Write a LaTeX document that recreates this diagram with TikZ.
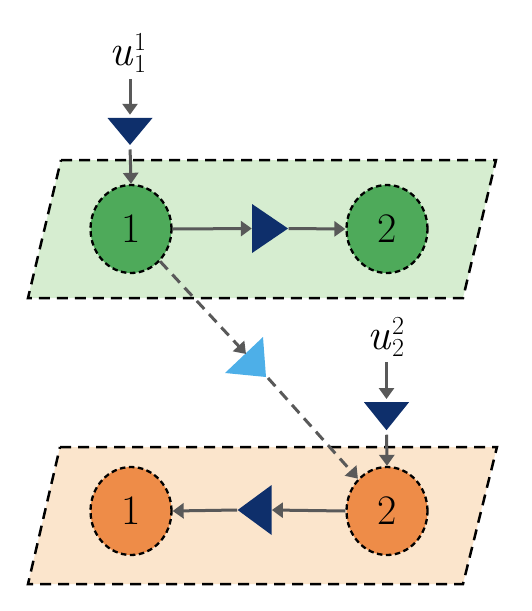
\documentclass[tikz,border=0pt]{standalone}
\usetikzlibrary{arrows.meta,shapes.geometric,calc}
\definecolor{gfill}{RGB}{214,237,208}
\definecolor{gnode}{RGB}{78,170,90}
\definecolor{ofill}{RGB}{251,229,204}
\definecolor{onode}{RGB}{238,140,72}
\definecolor{dblue}{RGB}{14,47,107}
\definecolor{lblue}{RGB}{77,175,232}
\definecolor{arrgray}{RGB}{89,89,89}
\newcommand{\ulab}[2]{{\fontsize{44}{44}\selectfont\itshape u}\kern1pt\rlap{\raisebox{-7pt}{\fontsize{26}{26}\selectfont #1}}\raisebox{15pt}{\fontsize{26}{26}\selectfont #2}}
\tikzset{
  plane/.style={draw=black, line width=2.5pt, dash pattern=on 11pt off 7pt},
  agent/.style={ellipse, draw=black, line width=2.3pt, dash pattern=on 5.5pt off 3.5pt,
    minimum width=81pt, minimum height=88pt, inner sep=0pt, font=\fontsize{42}{42}\selectfont},
  tri/.style={isosceles triangle, isosceles triangle stretches, fill=dblue, inner sep=0pt, draw=none},
  conn/.style={draw=arrgray, line width=3pt, -{Triangle[length=11pt,width=15pt]}},
  dconn/.style={conn, dash pattern=on 11pt off 7pt},
  lab/.style={inner sep=0pt, anchor=base}
}
\begin{document}
\begin{tikzpicture}[x=1pt,y=-1pt]
\useasboundingbox (0,0) rectangle (531,611);
% planes
\path[plane, fill=gfill] (61,160) -- (496,160) -- (463,298) -- (28,298) -- cycle;
\path[plane, fill=ofill] (60,447) -- (497,447) -- (463,584) -- (28,584) -- cycle;
% agents
\node[agent, fill=gnode] (a1) at (131,229) {1};
\node[agent, fill=gnode] (a2) at (387,229) {2};
\node[agent, fill=onode] (b1) at (131,511) {1};
\node[agent, fill=onode] (b2) at (387,511) {2};
% labels
\node[lab] (u1) at (128,65) {\ulab{1}{1}};
\node[lab] (u2) at (386,349) {\ulab{2}{2}};
% dark triangles
\node[tri, shape border rotate=270, minimum width=45pt, minimum height=27pt] (t1) at (130,128.5) {};
\node[tri, shape border rotate=0, minimum width=49pt, minimum height=36pt] (t2) at (265,228.5) {};
\node[tri, shape border rotate=180, minimum width=50pt, minimum height=34pt] (t3) at (259,510) {};
\node[tri, shape border rotate=270, minimum width=45pt, minimum height=28pt] (t4) at (386.5,413) {};
% light blue triangle
\coordinate (lb) at (251,362);
\fill[lblue] ($(lb)+(-26,11)$) -- ($(lb)+(12,-25)$) -- ($(lb)+(15,15)$) -- cycle;
\coordinate (lbin) at (246,354);
\coordinate (lbout) at (268,378);
% connectors
\coordinate (s1) at (130,79);
\coordinate (s2) at (386.5,362);
\draw[conn, shorten >=3pt] (s1) -- (t1.north);
\draw[conn, shorten <=4pt] (t1.apex) -- (a1.north);
\draw[conn] (a1.east) -- (t2.west);
\draw[conn] (t2.apex) -- (a2.west);
\draw[conn, shorten >=3pt] (s2) -- (t4.north);
\draw[conn, shorten <=4pt] (t4.apex) -- (b2.north);
\draw[conn] (b2.west) -- (t3.east);
\draw[conn] (t3.apex) -- (b1.east);
\draw[dconn] (a1.-48) -- (lbin);
\draw[dconn] (lbout) -- (b2.132);
\end{tikzpicture}
\end{document}
